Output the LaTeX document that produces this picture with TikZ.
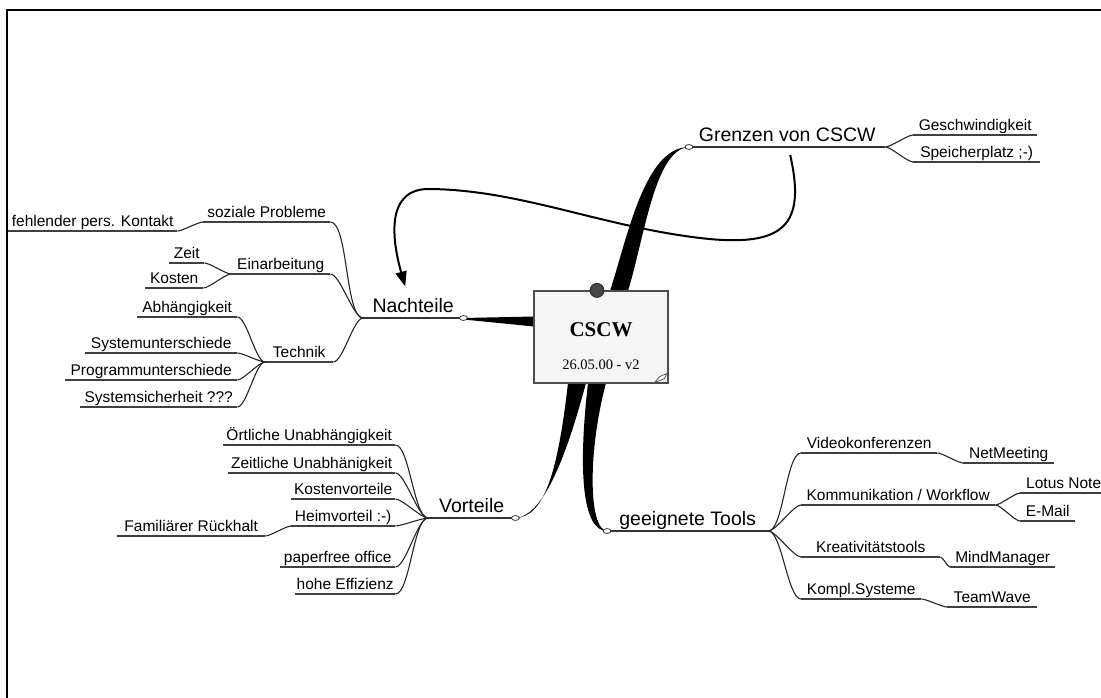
\documentclass[tikz,border=0pt]{standalone}
\usepackage{fontspec}
\setmainfont{Liberation Sans}
\newfontfamily\rootfont{Liberation Serif}
\usetikzlibrary{arrows.meta, calc}

\begin{document}
\begin{tikzpicture}[x=1pt,y=-1pt,
    sub/.style={anchor=south west, inner xsep=0pt, inner ysep=0.5pt, text depth=3.5pt, font=\fontsize{15.5}{18}\selectfont},
    main/.style={anchor=south west, inner xsep=0pt, inner ysep=0.5pt, text depth=5pt, font=\fontsize{19.5}{22}\selectfont},
    br/.style={out=0, in=180, looseness=0.45},
    conn/.style={line width=1.1pt, black!85},
    uline/.style={line width=1.1pt, black!75},
    knob/.style={draw=black!80, fill=white, line width=0.8pt}]
    \useasboundingbox (0,0) rectangle (1101,698);
    \draw[line width=2.2pt] (7,698) -- (7,10) -- (1101,10);

    \node[main, minimum width=100pt] (nacht) at (363,318) {Nachteile};
    \node[sub, minimum width=127pt] (soz) at (203,222) {soziale Probleme};
    \node[sub, minimum width=169pt] (fehl) at (8,231) {fehlender pers. Kontakt};
    \node[sub, minimum width=99pt] (einarb) at (231,274) {Einarbeitung};
    \node[sub, minimum width=35pt] (zeit) at (169,263) {Zeit};
    \node[sub, minimum width=58pt] (kosten) at (145,288) {Kosten};
    \node[sub, minimum width=68pt] (technik) at (265,362) {Technik};
    \node[sub, minimum width=100pt] (abh) at (137,317) {Abhängigkeit};
    \node[sub, minimum width=152pt] (sysu) at (85,353) {Systemunterschiede};
    \node[sub, minimum width=172pt] (progu) at (65,380) {Programmunterschiede};
    \node[sub, minimum width=157pt] (syss) at (80,407) {Systemsicherheit ???};

    \node[main, minimum width=87pt] (vort) at (428,518) {Vorteile};
    \node[sub, minimum width=172pt] (oert) at (223,445) {Örtliche Unabhängigkeit};
    \node[sub, minimum width=167pt] (zeitl) at (228,473) {Zeitliche Unabhänigkeit};
    \node[sub, minimum width=104pt] (kostv) at (291,499) {Kostenvorteile};
    \node[sub, minimum width=104pt] (heim) at (291,526) {Heimvorteil :-)};
    \node[sub, minimum width=148pt] (famil) at (117,536) {Familiärer Rückhalt};
    \node[sub, minimum width=115pt] (paper) at (280,567) {paperfree office};
    \node[sub, minimum width=100pt] (hohe) at (295,594) {hohe Effizienz};

    \node[main, minimum width=196pt] (grenzen) at (689,147) {Grenzen von CSCW};
    \node[sub, minimum width=124pt] (gesch) at (913,135) {Geschwindigkeit};
    \node[sub, minimum width=127pt] (speich) at (913,162) {Speicherplatz ;-)};

    \node[main, minimum width=161pt] (tools) at (607,531) {geeignete Tools};
    \node[sub, minimum width=136pt] (video) at (801,453) {Videokonferenzen};
    \node[sub, minimum width=91pt] (netm) at (963,463) {NetMeeting};
    \node[sub, minimum width=194pt] (komm) at (801,505) {Kommunikation / Workflow};
    \node[sub, inner xsep=6pt, minimum width=81pt] (lotus) at (1020,493) {Lotus Note};
    \node[sub, minimum width=55pt] (email) at (1020,521) {E-Mail};
    \node[sub, minimum width=139pt] (kreat) at (801,557) {Kreativitätstools};
    \node[sub, minimum width=105pt] (mindm) at (950,567) {MindManager};
    \node[sub, minimum width=120pt] (kompl) at (801,599) {Kompl.Systeme};
    \node[sub, minimum width=90pt] (teamw) at (947,607) {TeamWave};

    \foreach \n in {soz,fehl,einarb,zeit,kosten,technik,abh,sysu,progu,syss,oert,zeitl,kostv,heim,famil,paper,hohe,gesch,speich,video,netm,komm,lotus,email,kreat,mindm,kompl,teamw}
        \draw[uline] (\n.south west) -- (\n.south east);
    \foreach \n in {nacht,vort,grenzen,tools}
        \draw[line width=1.4pt, black!80] (\n.south west) -- (\n.south east);

    \foreach \c in {soz,einarb,technik}
        \draw[conn] (\c.south east) to[br] (nacht.south west);
    \draw[conn] (fehl.south east) to[br] (soz.south west);
    \foreach \c in {zeit,kosten}
        \draw[conn] (\c.south east) to[br] (einarb.south west);
    \foreach \c in {abh,sysu,progu,syss}
        \draw[conn] (\c.south east) to[br] (technik.south west);
    \foreach \c in {oert,zeitl,kostv,heim,paper,hohe}
        \draw[conn] (\c.south east) to[br] (vort.south west);
    \draw[conn] (famil.south east) to[br] (heim.south west);
    \foreach \c in {gesch,speich}
        \draw[conn] (grenzen.south east) to[br] (\c.south west);
    \foreach \c in {video,komm,kreat,kompl}
        \draw[conn] (tools.south east) to[br] (\c.south west);
    \draw[conn] (video.south east) to[br] (netm.south west);
    \draw[conn] (komm.south east) to[br] (lotus.south west);
    \draw[conn] (komm.south east) to[br] (email.south west);
    \draw[conn] (kreat.south east) to[br] (mindm.south west);
    \draw[conn] (kompl.south east) to[br] (teamw.south west);

    \coordinate (cscwpos) at (601,337);
    \fill ($(cscwpos)+(-67,-20.5)$) -- (nacht.south east) -- ++(0,1.5) -- ($(cscwpos)+(-67,-10.5)$) -- cycle;
    \fill ($(cscwpos)+(9,-46)$) .. controls (628,235) and (645,147) .. (grenzen.south west)
        .. controls (655,149) and (645,235) .. ($(cscwpos)+(27,-46)$) -- cycle;
    \fill ($(cscwpos)+(-33,46)$) .. controls (558,470) and (545,517) .. (vort.south east)
        .. controls (545,516) and (568,450) .. ($(cscwpos)+(-15,46)$) -- cycle;
    \fill ($(cscwpos)+(-13,46)$) .. controls (578,470) and (582,531) .. (tools.south west)
        .. controls (588,529) and (588,450) .. ($(cscwpos)+(5,46)$) -- cycle;

    \node[draw=gray!60!black, fill=gray!8, line width=1.2pt, minimum width=134pt, minimum height=92pt, inner sep=0pt] (cscw) at (cscwpos) {};
    \node[font=\rootfont\bfseries\fontsize{21}{24}\selectfont] (title) at (601,330) {CSCW};
    \node[font=\rootfont\fontsize{14.5}{17}\selectfont] (date) at (601,365) {26.05.00 - v2};
    \node[circle, fill=gray!55!black, draw=black!85, line width=0.8pt, minimum size=14pt, inner sep=0pt] (pin) at ([xshift=-4pt]cscw.north) {};
    \draw[black!70, line width=0.7pt] ($(cscw.south east)+(-14,-1)$) -- ++(5,-6) -- ++(7,-3) -- ++(-2,5) -- cycle;

    \draw[line width=2pt, -{Triangle[length=15pt,width=11pt]}] ([xshift=3pt,yshift=-8pt]grenzen.south)
        .. controls (806,225) and (785,248) .. (700,238)
        .. controls (600,226) and (520,190) .. (430,189)
        .. controls (385,188) and (392,240) .. ([xshift=-8pt,yshift=11pt]nacht.north);

    \foreach \k in {nacht.south east, vort.south east, grenzen.south west, tools.south west}
        \draw[knob] (\k) ellipse [x radius=4pt, y radius=2.4pt];
\end{tikzpicture}
\end{document}
